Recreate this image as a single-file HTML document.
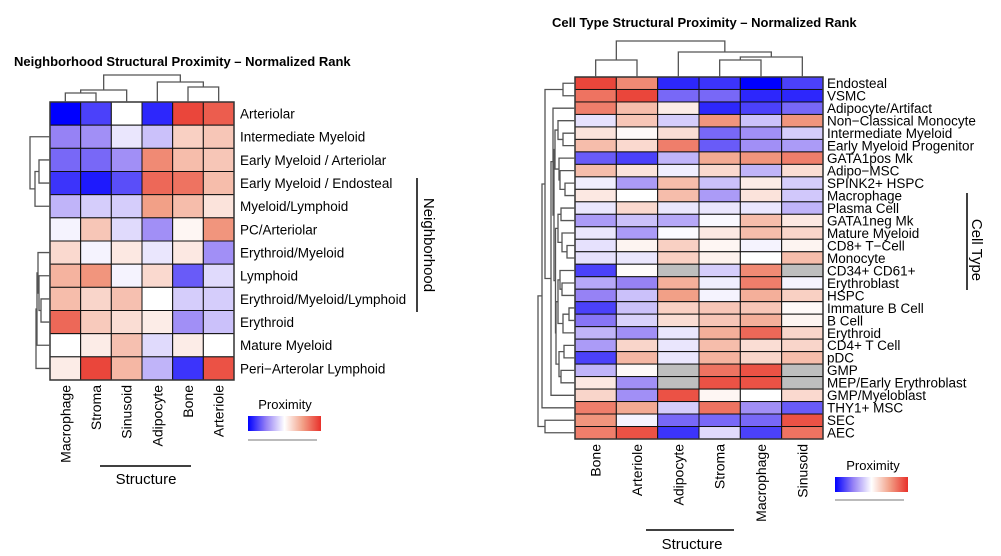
<!DOCTYPE html>
<html><head><meta charset="utf-8"><style>
body{margin:0;background:#fff;}
svg{display:block;font-family:"Liberation Sans",Arial,sans-serif;}
</style></head><body>
<svg id="c" width="1001" height="556" viewBox="0 0 1001 556" xmlns="http://www.w3.org/2000/svg">
<defs><linearGradient id="lg" x1="0" x2="1" y1="0" y2="0">
<stop offset="0" stop-color="#0000ff"/><stop offset="0.25" stop-color="#9682f5"/><stop offset="0.5" stop-color="#ffffff"/><stop offset="0.75" stop-color="#f2a087"/><stop offset="1" stop-color="#e8302a"/></linearGradient></defs>
<text x="14" y="66" font-size="13" font-weight="bold">Neighborhood Structural Proximity – Normalized Rank</text>
<text x="552" y="27" font-size="13" font-weight="bold">Cell Type Structural Proximity – Normalized Rank</text>
<g id="L"></g>
<g id="R"></g>
<line x1="100" y1="466" x2="191" y2="466" stroke="#000" stroke-width="1.5"/>
<text x="146" y="484" font-size="15" text-anchor="middle">Structure</text>
<line x1="646" y1="530" x2="734" y2="530" stroke="#000" stroke-width="1.5"/>
<text x="692" y="549" font-size="15" text-anchor="middle">Structure</text>
<line x1="417" y1="178" x2="417" y2="312" stroke="#000" stroke-width="1.5"/>
<text transform="translate(424,245) rotate(90)" font-size="15" text-anchor="middle">Neighborhood</text>
<line x1="967" y1="193" x2="967" y2="290" stroke="#000" stroke-width="1.5"/>
<text transform="translate(972,250) rotate(90)" font-size="15" text-anchor="middle">Cell Type</text>
<g>
<text x="285" y="409" font-size="13" text-anchor="middle">Proximity</text>
<rect x="248" y="416" width="73" height="15" fill="url(#lg)"/>
<line x1="248" y1="440" x2="317" y2="440" stroke="#777" stroke-width="1"/>
</g>
<g>
<text x="873" y="470" font-size="13" text-anchor="middle">Proximity</text>
<rect x="835" y="477" width="73" height="15" fill="url(#lg)"/>
<line x1="835" y1="500" x2="904" y2="500" stroke="#777" stroke-width="1"/>
</g>
</svg>
<script>
var leftCols=["Macrophage","Stroma","Sinusoid","Adipocyte","Bone","Arteriole"];
var leftRows=["Arteriolar","Intermediate Myeloid","Early Myeloid / Arteriolar","Early Myeloid / Endosteal","Myeloid/Lymphoid","PC/Arteriolar","Erythroid/Myeloid","Lymphoid","Erythroid/Myeloid/Lymphoid","Erythroid","Mature Myeloid","Peri\u2212Arterolar Lymphoid"];
var leftValues=[
[-1,-0.75,0,-0.85,0.9,0.8],
[-0.5,-0.45,-0.1,-0.25,0.25,0.3],
[-0.6,-0.6,-0.45,0.6,0.35,0.3],
[-0.8,-0.9,-0.7,0.75,0.7,0.35],
[-0.3,-0.2,-0.2,0.5,0.35,0.15],
[-0.05,0.3,-0.15,-0.45,0.05,0.55],
[0.2,-0.05,0.12,-0.1,0.12,-0.45],
[0.4,0.55,-0.05,0.2,-0.65,-0.15],
[0.35,0.22,0.33,0,-0.2,-0.2],
[0.75,0.28,0.18,0.1,-0.45,-0.25],
[0,0.1,0.33,-0.15,0.1,0],
[0.1,0.9,0.38,-0.3,-0.8,0.85]];
var rightCols=["Bone","Arteriole","Adipocyte","Stroma","Macrophage","Sinusoid"];
var rightRows=["Endosteal","VSMC","Adipocyte/Artifact","Non\u2212Classical Monocyte","Intermediate Myeloid","Early Myeloid Progenitor","GATA1pos Mk","Adipo\u2212MSC","SPINK2+ HSPC","Macrophage","Plasma Cell","GATA1neg Mk","Mature Myeloid","CD8+ T\u2212Cell","Monocyte","CD34+ CD61+","Erythroblast","HSPC","Immature B Cell","B Cell","Erythroid","CD4+ T Cell","pDC","GMP","MEP/Early Erythroblast","GMP/Myeloblast","THY1+ MSC","SEC","AEC"];
var rightValues=[
[0.9,0.6,-0.85,-0.8,-1,-0.75],
[0.7,0.9,-0.6,-0.6,-0.85,-0.85],
[0.65,0.35,0.1,-0.85,-0.75,-0.6],
[-0.12,0.3,-0.2,0.55,-0.25,0.55],
[0.15,0.03,0.18,-0.6,-0.45,-0.2],
[0.35,0.2,0.65,-0.65,-0.45,-0.4],
[-0.65,-0.75,-0.3,0.45,0.55,0.65],
[0.35,0.15,-0.07,0.2,-0.3,0.18],
[-0.07,-0.4,0.35,-0.25,0.1,-0.2],
[0.12,0,0.35,-0.4,0.15,-0.22],
[-0.1,0.2,-0.1,-0.1,-0.1,-0.3],
[-0.4,-0.25,-0.35,-0.03,0.35,0.12],
[-0.1,-0.4,-0.02,0.12,0.35,0.22],
[-0.12,0.06,0.25,0.05,-0.05,0.06],
[-0.12,-0.1,0.25,0.07,0,0.35],
[-0.75,0.02,null,-0.2,0.6,null],
[-0.35,-0.5,0.42,-0.07,0.65,-0.05],
[-0.5,-0.25,0.5,-0.05,0.42,0.25],
[-0.75,-0.25,0.25,0.3,0.3,0.03],
[-0.55,-0.18,0.18,0.3,0.42,0.06],
[-0.3,-0.45,-0.1,0.42,0.75,0.22],
[-0.4,0.22,-0.1,0.35,0.18,0.22],
[-0.75,0.38,-0.1,0.4,0.22,0.35],
[-0.3,0.03,null,0.7,0.85,null],
[0.12,-0.45,null,0.85,0.85,null],
[0.22,-0.45,0.85,0.05,0,0.2],
[0.65,0.45,-0.2,0.7,-0.45,-0.65],
[0.55,-0.05,-0.6,-0.6,-0.6,0.85],
[0.65,0.85,-0.8,-0.15,-0.75,0.7]];
var leftColTree=[27,[12,[9,0,1],2],[20,[15,4,5],3]];
var leftRowTree=[28,0,[25,[20,1,[15,[11,2,3],4]],[21,5,[17,[14,[13,[12,6,[11,7,[9,8,9]]],10],11]]]]];
var rightColTree=[36,[17,0,1],[25,2,[20,[17,3,4],5]]];
var rG1=[17,3,[12,4,5]];
var rG2=[16,6,[15,7,[10,8,9]]];
var rG3=[17,[14,10,11],[13,12,[8,13,14]]];
var rG4=[17,[15,15,[13,16,17]],[12,[6,18,19],20]];
var rG5=[16,[11,21,22],[14,23,24]];
var rInner=[22,2,[21,[20,rG1,rG2],[19.5,rG3,[19,rG4,rG5]]]];
var rightRowTree=[37,[33,[30,[12,0,1],[24,rInner,25]],26],[30,27,28]];

var SVGNS="http://www.w3.org/2000/svg";
function mk(t,a,p){var e=document.createElementNS(SVGNS,t);for(var k in a)e.setAttribute(k,a[k]);p.appendChild(e);return e;}
function lerp(a,b,t){return [0,1,2].map(function(i){return Math.round(a[i]+(b[i]-a[i])*t);});}
function cellColor(v){
 if(v===null||v===undefined||isNaN(v))return "#bebebe";
 var c;
 if(v<0){var t=-v;c=t<0.5?lerp([255,255,255],[150,130,245],t/0.5):lerp([150,130,245],[0,0,255],(t-0.5)/0.5);}
 else{c=v<0.5?lerp([255,255,255],[242,160,135],v/0.5):lerp([242,160,135],[232,48,40],(v-0.5)/0.5);}
 return "rgb("+c.join(",")+")";
}
function dendro(tree,pos,base,dir,g,name){
 function rec(n){
  if(typeof n==="number")return {c:pos(n),h:0};
  var a=rec(n[1]),b=rec(n[2]),h=n[0],d;
  if(dir==="up"){var y=base-h;d="M"+a.c+","+(base-a.h)+"V"+y+"H"+b.c+"V"+(base-b.h);}
  else{var x=base-h;d="M"+(base-a.h)+","+a.c+"H"+x+"V"+b.c+"H"+(base-b.h);}
  var p=mk("path",{d:d,fill:"none",stroke:"#555","stroke-width":1.3},g);
  
  
  return {c:(a.c+b.c)/2,h:h};
 }
 rec(tree);
}
function heat(gid,cols,rows,vals,x0,y0,w,h,fs,labX,colLabY,colTree,rowTree){
 var g=document.getElementById(gid);
 var cw=w/cols.length,rh=h/rows.length;
 function xs(i){return x0+cw*i;}
 function ys(j){return y0+rh*j;}
 for(var j=0;j<rows.length;j++){
  for(var i=0;i<cols.length;i++){
   var v=(vals[j]||[])[i];
   var e=mk("rect",{x:xs(i),y:ys(j),width:cw,height:rh,fill:cellColor(v),stroke:"#111","stroke-width":1},g);
   
   
  }
 }
 mk("rect",{x:x0,y:y0,width:w,height:h,fill:"none",stroke:"#333","stroke-width":1.5},g);
 rows.forEach(function(r,j){
  var t=mk("text",{x:labX,y:ys(j)+rh/2+fs*0.36,"font-size":fs},g);t.textContent=r;
  
  
 });
 cols.forEach(function(c,i){
  var cx=xs(i)+cw/2+5;
  var t=mk("text",{transform:"translate("+cx+","+colLabY+") rotate(-90)","font-size":14,"text-anchor":"end"},g);t.textContent=c;
  
  
 });
 try{dendro(colTree,function(i){return xs(i)+cw/2;},y0,"up",g,gid+'-column-dendrogram');}catch(err){}
 try{dendro(rowTree,function(j){return ys(j)+rh/2;},x0,"left",g,gid+'-row-dendrogram');}catch(err){}
}
try{heat("L",leftCols,leftRows,leftValues,50,102,184,278,13.5,240,385,leftColTree,leftRowTree);}catch(err){}
try{heat("R",rightCols,rightRows,rightValues,575,77,248,362,13.5,827,444,rightColTree,rightRowTree);}catch(err){}
</script>
</body></html>
